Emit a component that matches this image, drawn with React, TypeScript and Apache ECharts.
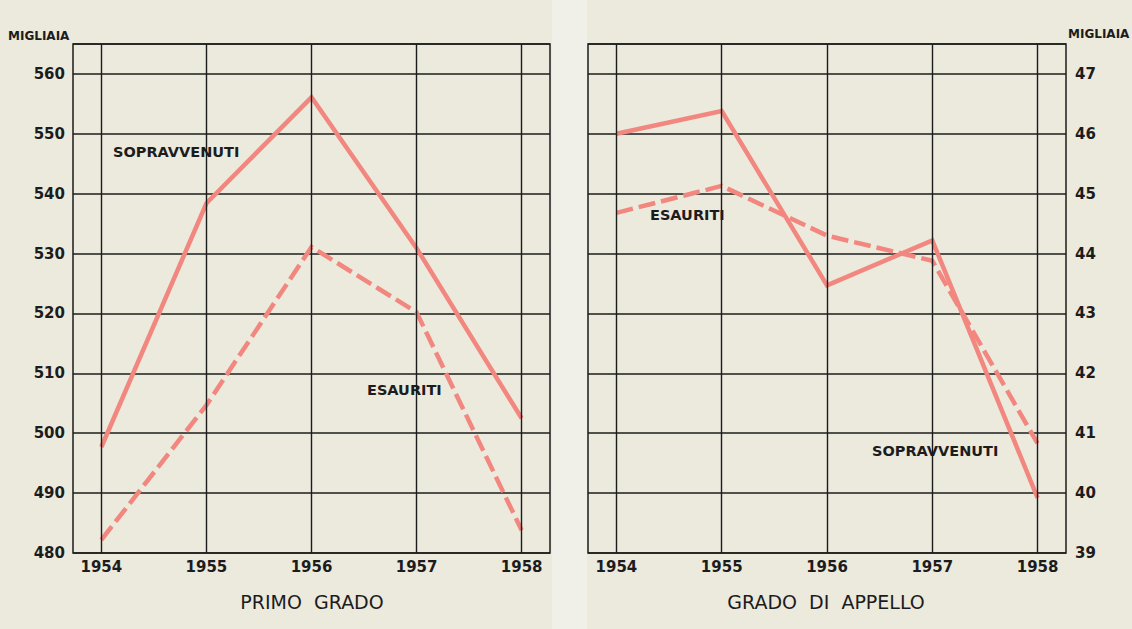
import React, { useEffect, useRef } from "react";
import * as echarts from "echarts";

const years = [1954, 1955, 1956, 1957, 1958];
const primoSopravvenuti = [497.7, 538.4, 556.1, 530.9, 502.5];
const primoEsauriti = [482.2, 504.7, 531.1, 520.2, 483.8];
const appelloSopravvenuti = [46.0, 46.38, 43.47, 44.22, 39.92];
const appelloEsauriti = [44.68, 45.13, 44.3, 43.88, 40.83];

const LINE = "#f2877f";
const INK = "#1c1c1c";
const FONT = "DejaVu Sans";

export default function App() {
  const ref = useRef<HTMLDivElement>(null);
  useEffect(() => {
    if (!ref.current) return;
    const chart = echarts.init(ref.current, undefined, { renderer: "svg" });
    const pair = (vals: number[]) => years.map((y, i) => [y, vals[i]]);
    const xAxisBase = (gridIndex: number) => ({
      type: "value" as const,
      gridIndex,
      min: 1953.73,
      max: 1958.27,
      splitLine: { show: false },
      axisLine: { show: false },
      axisTick: { show: false },
      axisLabel: {
        customValues: years,
        formatter: (v: number) => String(Math.round(v)),
        color: INK,
        fontFamily: FONT,
        fontWeight: "bold",
        fontSize: 15,
        margin: 6,
      },
    });
    const vlines = (xi: number) => ({
      type: "line" as const,
      xAxisIndex: xi,
      yAxisIndex: xi,
      data: [],
      z: 1,
      silent: true,
      markLine: {
        silent: true,
        symbol: ["none", "none"],
        label: { show: false },
        lineStyle: { color: INK, width: 1.4, type: "solid" as const },
        data: years.map((y) => ({ xAxis: y })),
      },
    });
    const lineSeries = (xi: number, vals: number[], dashed: boolean, name: string) => ({
      type: "line" as const,
      name,
      xAxisIndex: xi,
      yAxisIndex: xi,
      data: pair(vals),
      symbol: "none",
      z: 3,
      lineStyle: {
        color: LINE,
        width: 4.5,
        type: dashed ? ([17, 6] as any) : ("solid" as const),
        join: "miter" as const,
      },
    });
    const ann = (x: number, y: number, text: string) => ({
      type: "text" as const,
      left: x,
      top: y,
      style: { text, fontFamily: FONT, fontSize: 14.5, fontWeight: "bold", fill: INK },
    });
    chart.setOption({
      animation: false,
      backgroundColor: "#ece9dd",
      grid: [
        { left: 73, right: 582, top: 44, bottom: 76, show: true, borderColor: INK, borderWidth: 1.5 },
        { left: 588, right: 66, top: 44, bottom: 76, show: true, borderColor: INK, borderWidth: 1.5 },
      ],
      xAxis: [xAxisBase(0), xAxisBase(1)],
      yAxis: [
        {
          type: "value",
          gridIndex: 0,
          min: 480,
          max: 565,
          interval: 10,
          axisLine: { show: false },
          axisTick: { show: false },
          splitLine: { lineStyle: { color: INK, width: 1.5 } },
          axisLabel: {
            formatter: (v: number) => (v % 10 === 0 ? String(v) : ""),
            color: INK,
            fontFamily: FONT,
            fontWeight: "bold",
            fontSize: 15,
            margin: 8,
          },
        },
        {
          type: "value",
          gridIndex: 1,
          position: "right",
          min: 39,
          max: 47.5,
          interval: 1,
          axisLine: { show: false },
          axisTick: { show: false },
          splitLine: { lineStyle: { color: INK, width: 1.5 } },
          axisLabel: {
            formatter: (v: number) => (Number.isInteger(v) ? String(v) : ""),
            color: INK,
            fontFamily: FONT,
            fontWeight: "bold",
            fontSize: 15,
            margin: 9,
          },
        },
      ],
      graphic: [
        { type: "rect", z: -10, shape: { x: 552, y: 0, width: 35, height: 629 }, style: { fill: "#f0efe8" } },
        { type: "text", left: 8, top: 30, style: { text: "MIGLIAIA", fontFamily: FONT, fontSize: 12, fontWeight: "bold", fill: INK } },
        { type: "text", left: 1068, top: 28, style: { text: "MIGLIAIA", fontFamily: FONT, fontSize: 12, fontWeight: "bold", fill: INK } },
        ann(113, 144, "SOPRAVVENUTI"),
        ann(367, 382, "ESAURITI"),
        ann(650, 207, "ESAURITI"),
        ann(872, 443, "SOPRAVVENUTI"),
        {
          type: "text",
          x: 312,
          y: 602,
          style: { text: "PRIMO  GRADO", fontFamily: FONT, fontSize: 19, fill: INK, align: "center", verticalAlign: "middle" },
        },
        {
          type: "text",
          x: 826,
          y: 602,
          style: { text: "GRADO  DI  APPELLO", fontFamily: FONT, fontSize: 19, fill: INK, align: "center", verticalAlign: "middle" },
        },
      ],
      series: [
        vlines(0),
        vlines(1),
        lineSeries(0, primoSopravvenuti, false, "Sopravvenuti primo grado"),
        lineSeries(0, primoEsauriti, true, "Esauriti primo grado"),
        lineSeries(1, appelloSopravvenuti, false, "Sopravvenuti appello"),
        lineSeries(1, appelloEsauriti, true, "Esauriti appello"),
      ],
    });
    return () => chart.dispose();
  }, []);
  return <div ref={ref} style={{ width: 1132, height: 629, position: "fixed", left: 0, top: 0 }} />;
}
